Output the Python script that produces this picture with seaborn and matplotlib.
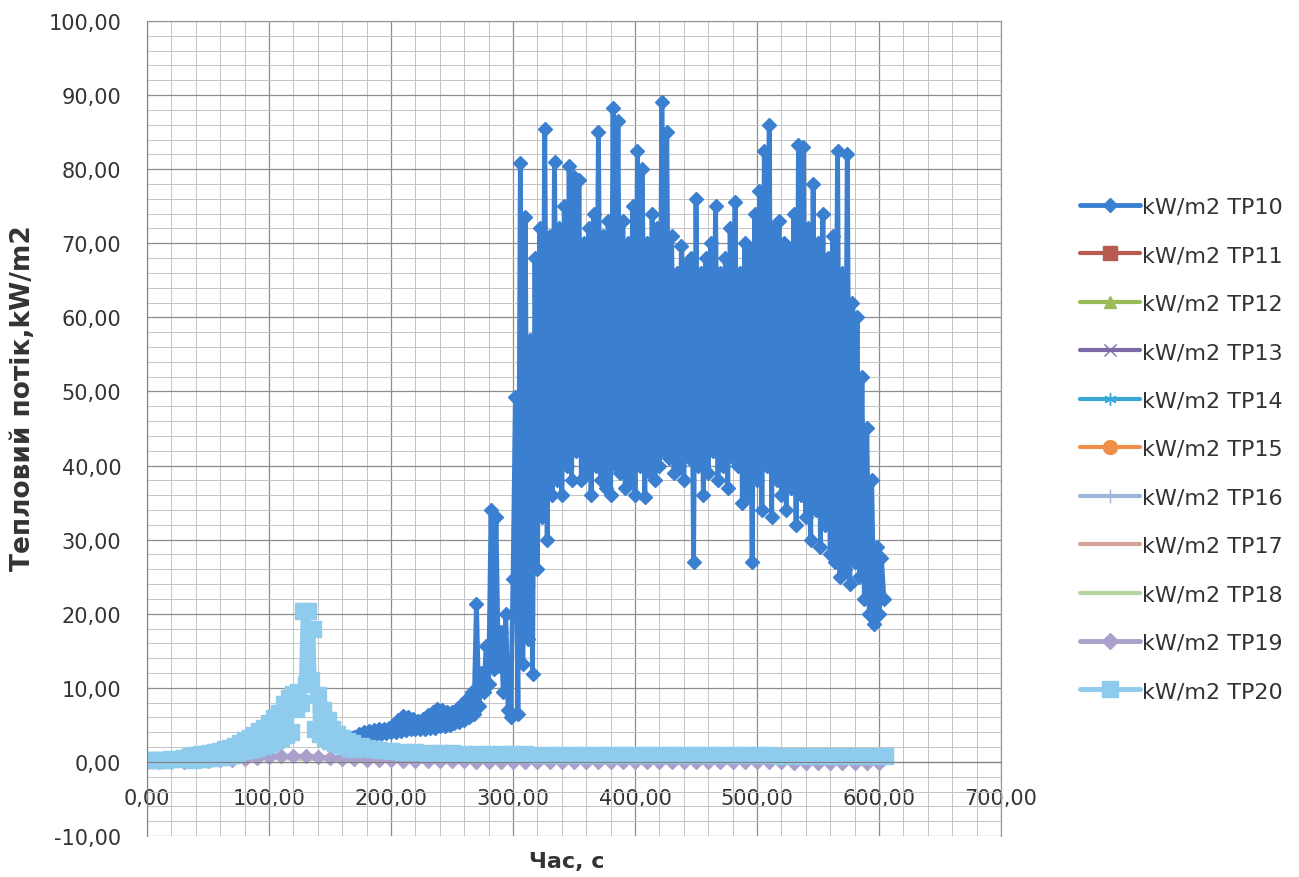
import numpy as np
import pandas as pd
import seaborn as sns
import matplotlib.pyplot as plt
from matplotlib.ticker import MultipleLocator, FuncFormatter

sns.set_style('white')
plt.rcParams['font.family'] = ['DejaVu Sans']

# ---- data ----
# TP10: sampled every 2 s starting at 168 s
tp10 = [3.2, 3.4, 3.3, 3.8, 3.4, 4.0, 3.5, 4.2, 3.6, 4.3,
        3.7, 4.4, 3.8, 4.5, 3.9, 4.6, 4.0, 5.0, 4.1, 5.6,
        4.2, 6.2, 4.3, 6.0, 4.4, 5.8, 4.5, 5.5, 4.4, 5.8,
        4.5, 6.3, 4.6, 6.8, 4.6, 7.2, 4.8, 7.0, 4.9, 6.8,
        5.0, 6.7, 5.2, 7.2, 5.4, 7.8, 5.6, 8.5, 6.0, 9.5,
        6.5, 21.3, 7.5, 12.0, 9.5, 15.7, 10.5, 34.0, 12.5, 33.0,
        13.0, 17.5, 9.5, 20.0, 7.0, 6.0,
        24.7, 49.3, 6.5, 80.8, 13.2, 73.5, 16.6, 57, 11.9, 68,
        26, 72, 33, 85.4, 30, 71, 36, 81, 38, 72,
        36, 75, 40, 80.4, 38, 79, 42, 78.5, 38, 70,
        39, 72, 36, 74, 40, 85, 38, 71, 37, 73,
        36, 88.2, 40, 86.5, 39, 73, 37, 70, 38, 75,
        36, 82.5, 40, 80, 35.8, 70, 39, 74, 38, 72,
        40, 89, 42, 85, 41, 71, 39, 66, 40, 69.6,
        38, 67, 41, 68, 27, 76, 40, 66, 36, 68,
        39, 70, 42, 75, 38, 66, 40, 68, 37, 72,
        41, 75.5, 40, 66, 35, 70, 36, 69, 27, 74,
        38, 77, 34, 82.5, 40, 86, 33, 72, 38, 73,
        36, 70, 34, 69, 37, 74, 32, 83.3, 36, 83,
        33, 72, 30, 78, 34, 70, 29, 74, 32, 68,
        28, 71, 27, 82.5, 25, 66, 26, 82, 24, 62,
        27, 60, 25, 52, 22, 45,
        20, 38, 18.6, 29, 20, 27.5, 22]
t10 = 168 + 2 * np.arange(len(tp10))

# TP20: coarse at the start, every 2 s around the peak, every 10 s after
t20 = np.concatenate([[0, 5, 10, 15, 20, 25, 30, 34],
                      np.arange(36, 171, 2),
                      [175, 180, 185, 190],
                      np.arange(200, 601, 10),
                      [605]])
tp20 = [0.2, 0.2, 0.25, 0.3, 0.35, 0.4, 0.5, 0.6,
        0.8, 0.3, 0.9, 0.35, 1.0, 0.4, 1.1, 0.5, 1.25, 0.55,
        1.35, 0.6, 1.5, 0.65, 1.7, 0.75, 1.9, 0.9, 2.2, 1.2,
        2.6, 1.5, 3.0, 1.6, 3.2, 1.7, 3.6, 1.9, 4.2, 2.1,
        4.6, 2.3, 5.3, 2.6, 5.9, 2.9, 6.6, 3.2, 7.8, 3.6,
        8.6, 4.0, 9.2, 7.2, 9.5, 8.0, 20.4, 10.5, 20.4, 11.0,
        18.0, 4.5, 9.0, 3.8, 7.0, 3.2, 5.6, 2.8, 4.4, 2.5,
        3.8, 2.3, 3.2, 2.1, 2.8, 1.9, 2.5, 1.8,
        2.1, 1.9, 1.75, 1.65,
        1.5, 1.4, 1.3, 1.25, 1.2, 1.15, 1.1, 1.1, 1.05, 1.0,
        1.0, 1.0, 0.95, 0.95, 0.95, 0.95, 0.9, 0.9, 0.9, 0.9,
        0.9, 0.9, 0.9, 0.9, 0.9, 0.9, 0.9, 0.9, 0.9, 0.9,
        0.9, 0.9, 0.85, 0.85, 0.85, 0.85, 0.85, 0.85, 0.85, 0.85,
        0.85,
        0.85]

# TP19 every 10 s
tp19 = [0.0, 0.0, 0.0, 0.05, 0.1, 0.15, 0.2, 0.3, 0.4, 0.55,
        0.7, 0.75, 0.75, 0.75, 0.7, 0.55, 0.45, 0.35, 0.3, 0.25,
        0.2, 0.18, 0.15, 0.12, 0.1, 0.08, 0.06, 0.05, 0.04, 0.03,
        0.02, 0.02, 0.01, 0.0, 0.0, 0.0, 0.0, -0.02, -0.02, -0.03,
        -0.03, -0.04, -0.04, -0.05, -0.05, -0.05, -0.06, -0.06, -0.07, -0.07,
        -0.08, -0.08, -0.08, -0.09, -0.09, -0.1, -0.1, -0.1, -0.1, -0.1, -0.1]
t19 = 10 * np.arange(len(tp19))

# the other sensors stay close to zero (every 50 s)
t_low = [0, 50, 100, 150, 200, 250, 300, 350, 400, 450, 500, 550, 600]
tp11 = [0.3, 0.4, 0.8, 0.6, 0.4, 0.3, 0.3, 0.3, 0.3, 0.3, 0.3, 0.3, 0.3]
tp12 = [0.3, 0.35, 0.7, 0.5, 0.35, 0.3, 0.3, 0.3, 0.3, 0.3, 0.3, 0.3, 0.3]
tp13 = [0.2, 0.3, 0.6, 0.4, 0.3, 0.2, 0.2, 0.2, 0.2, 0.2, 0.2, 0.2, 0.2]
tp14 = [0.3, 0.4, 0.9, 0.6, 0.4, 0.3, 0.3, 0.3, 0.3, 0.3, 0.3, 0.3, 0.3]
tp15 = [0.3, 0.3, 0.6, 0.5, 0.3, 0.3, 0.3, 0.3, 0.3, 0.3, 0.3, 0.3, 0.3]
tp16 = [0.3, 0.4, 0.7, 0.5, 0.4, 0.3, 0.3, 0.3, 0.3, 0.3, 0.3, 0.3, 0.3]
tp17 = [0.2, 0.3, 0.6, 0.4, 0.3, 0.2, 0.2, 0.2, 0.2, 0.2, 0.2, 0.2, 0.2]
tp18 = [0.2, 0.3, 0.5, 0.4, 0.3, 0.2, 0.2, 0.2, 0.2, 0.2, 0.2, 0.2, 0.2]

labels = ['kW/m2 TP10', 'kW/m2 TP11', 'kW/m2 TP12', 'kW/m2 TP13', 'kW/m2 TP14',
          'kW/m2 TP15', 'kW/m2 TP16', 'kW/m2 TP17', 'kW/m2 TP18', 'kW/m2 TP19',
          'kW/m2 TP20']
colors = ['#3b7fd0', '#b85a50', '#9bbb59', '#7d6aa8', '#3aa8d4', '#f08f48',
          '#9fb6da', '#d9a09c', '#b8d4a0', '#ab9fcb', '#8ecbec']
markers = ['D', 's', '^', 'x', (6, 2, 0), 'o', '+', None, None, 'D', 's']

series = [(t10, tp10), (t_low, tp11), (t_low, tp12), (t_low, tp13), (t_low, tp14),
          (t_low, tp15), (t_low, tp16), (t_low, tp17), (t_low, tp18), (t19, tp19),
          (t20, tp20)]
msize = [7.5, 5, 5, 5, 5, 5, 5, 0, 0, 7, 12]
lwid = [3.5, 3, 3, 3, 3, 3, 3, 3, 3, 3.5, 3.5]
legend_ms = [7.5, 10, 9, 9, 9, 10, 10, 0, 0, 8, 12]

fig, ax = plt.subplots(figsize=(12.99, 8.78), dpi=100)
fig.subplots_adjust(left=0.1132, right=0.7706, top=0.975, bottom=0.0467)

for (tx, vy), lab, col, mk, ms, lw in zip(series, labels, colors, markers, msize, lwid):
    kw = dict(marker=mk, markersize=ms, markeredgecolor=col, markeredgewidth=1) if mk else {}
    sns.lineplot(x=np.asarray(tx), y=np.asarray(vy), ax=ax, color=col, linewidth=lw,
                 estimator=None, sort=False, label=lab, **kw)

ax.set_xlim(0, 700)
ax.set_ylim(-10, 100)
ax.xaxis.set_major_locator(MultipleLocator(100))
ax.xaxis.set_minor_locator(MultipleLocator(20))
ax.yaxis.set_major_locator(MultipleLocator(10))
ax.yaxis.set_minor_locator(MultipleLocator(2))
fmt = FuncFormatter(lambda v, p: f'{v:.2f}'.replace('.', ','))
ax.xaxis.set_major_formatter(fmt)
ax.yaxis.set_major_formatter(fmt)

ax.grid(which='major', color='#8e8e8e', linewidth=0.9)
ax.grid(which='minor', color='#c4c4c4', linewidth=0.7)
ax.set_axisbelow(True)

for s in ['top', 'right']:
    ax.spines[s].set_color('#9a9a9a')
    ax.spines[s].set_linewidth(0.9)
ax.spines['left'].set_color('#808080')
ax.spines['bottom'].set_color('#808080')
ax.spines['bottom'].set_position(('data', 0))

ax.tick_params(axis='y', which='major', direction='out', length=6.5, width=0.9,
               color='#808080', pad=12, labelsize=15, labelcolor='#333333')
ax.tick_params(axis='x', which='major', direction='out', length=5, width=0.9,
               color='#808080', pad=14, labelsize=15, labelcolor='#333333')
ax.tick_params(which='minor', length=0)

ax.set_xlabel('Час, с', fontsize=16, fontweight='bold', color='#333333')
ax.set_ylabel('Тепловий потік,kW/m2', fontsize=19, fontweight='bold', color='#333333')
ax.xaxis.set_label_coords(0.492, -0.018)
ax.yaxis.set_label_coords(-0.130, 0.539)

leg = ax.legend(loc='center left', bbox_to_anchor=(1080 / 1299, 1 - 450 / 878),
                bbox_transform=fig.transFigure, frameon=False, fontsize=16,
                handlelength=2.7, handletextpad=0.1, labelspacing=1.28,
                borderpad=0, borderaxespad=0)
for line, ms in zip(leg.get_lines(), legend_ms):
    line.set_markersize(ms)
for txt in leg.get_texts():
    txt.set_color('#333333')

fig.savefig('out.png', dpi=100)
